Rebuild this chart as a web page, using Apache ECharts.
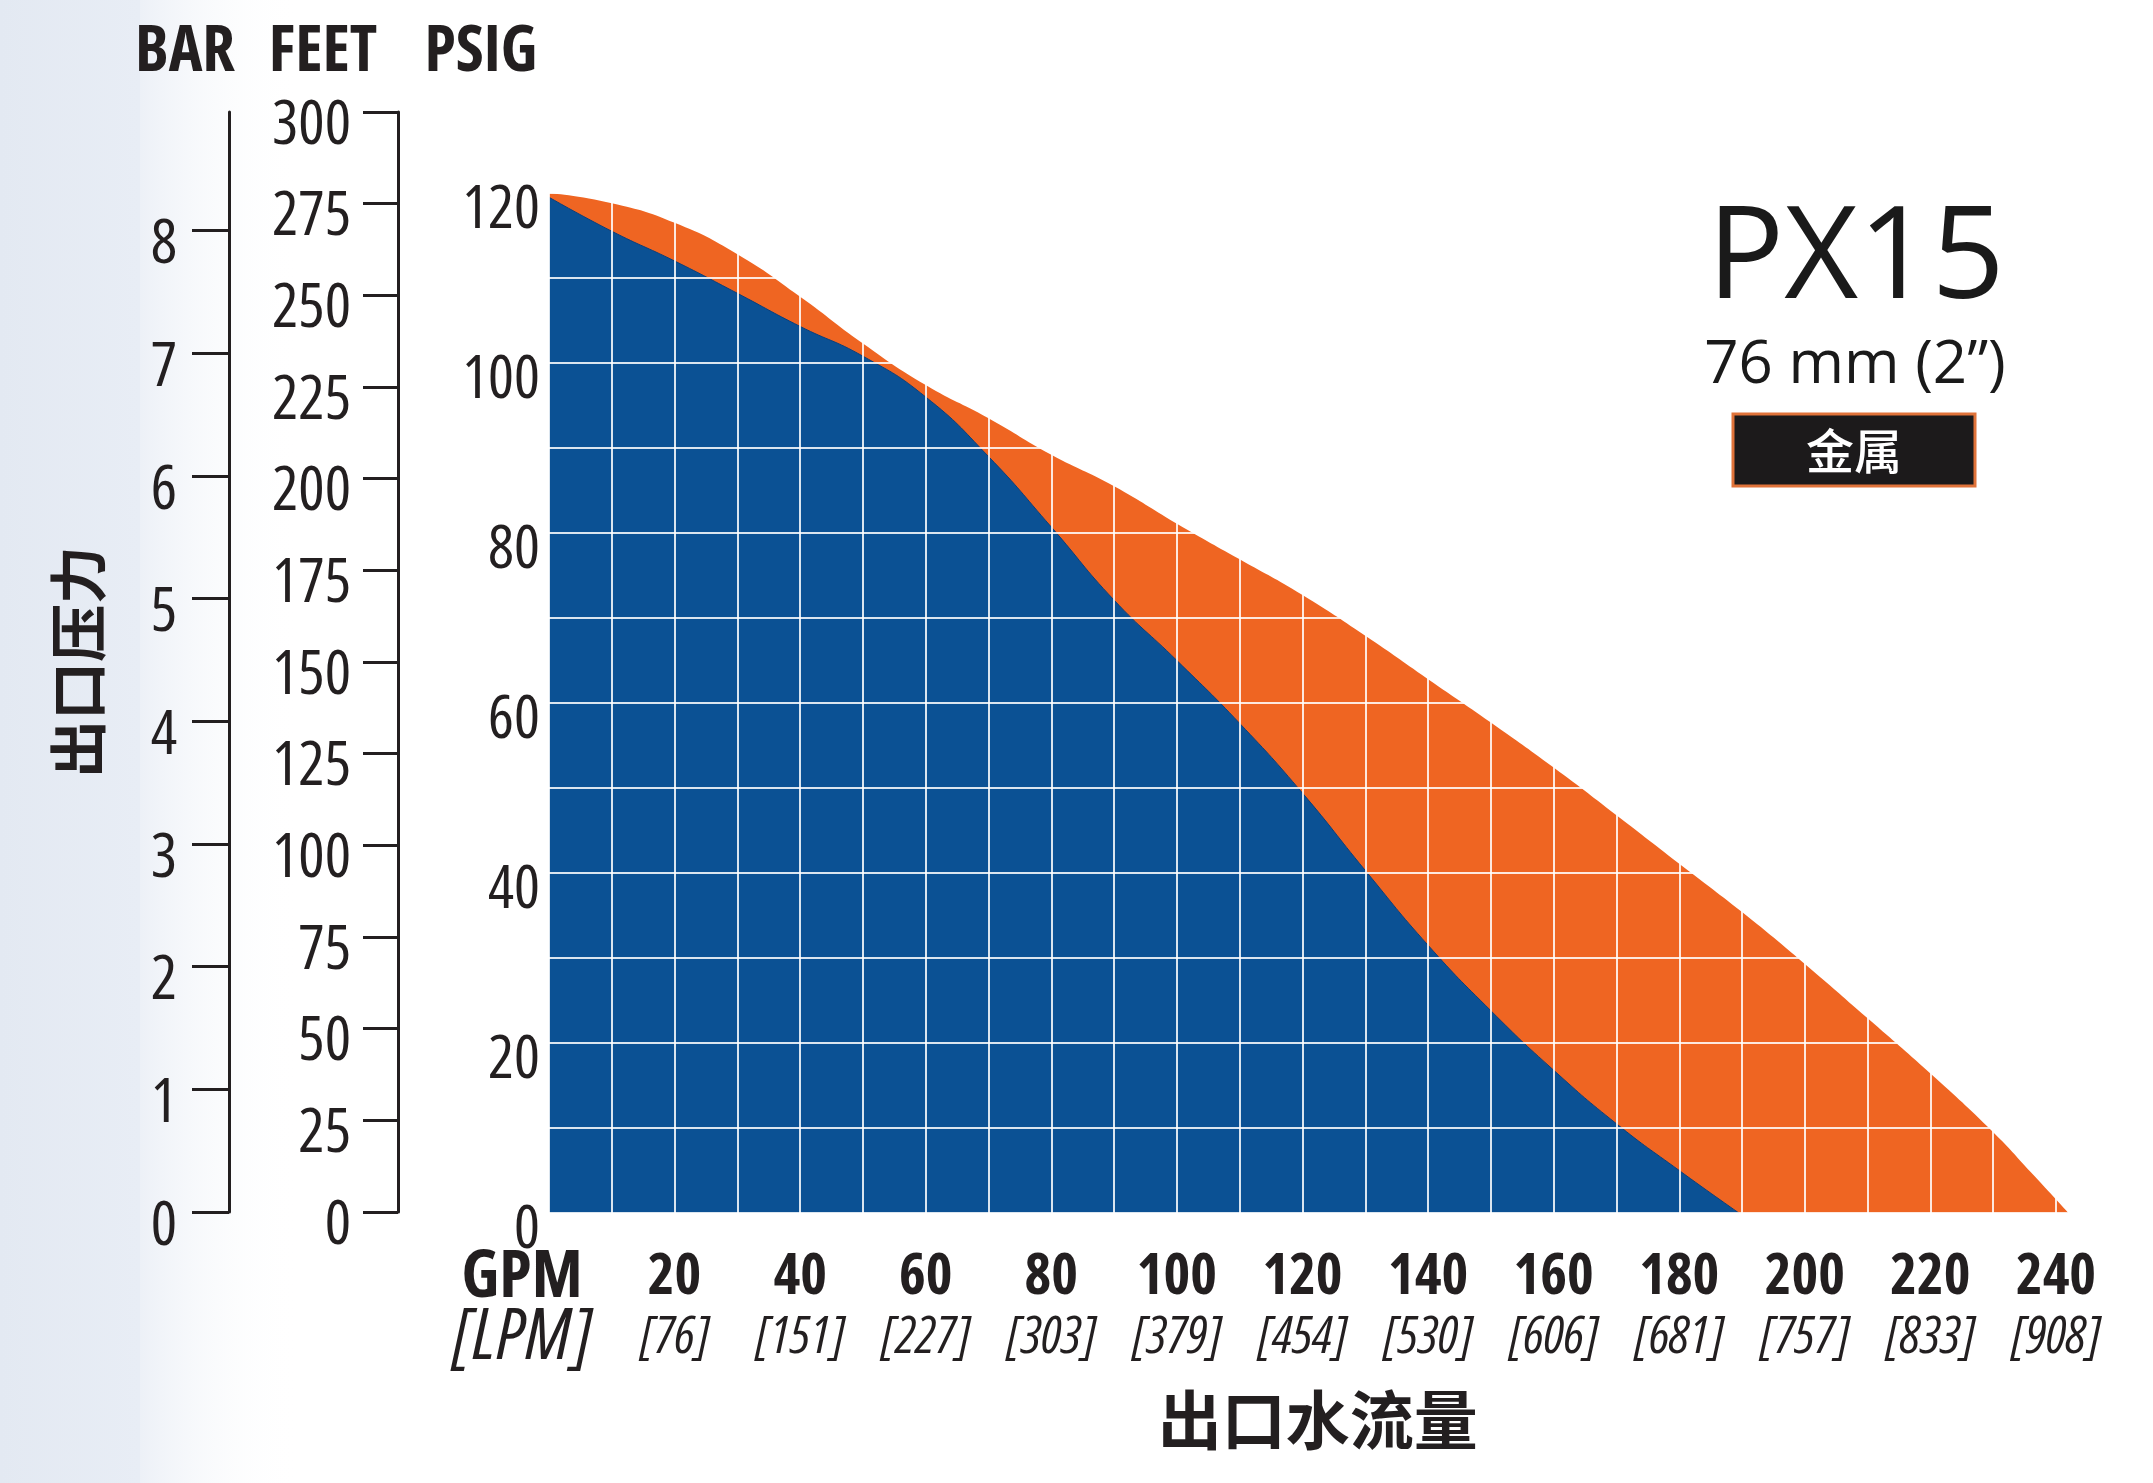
<!DOCTYPE html>
<html>
<head>
<meta charset="utf-8">
<script src="https://cdn.jsdelivr.net/npm/echarts@6/dist/echarts.min.js"></script>
<style>
html,body{margin:0;padding:0;background:#fff;}
#chart{width:2153px;height:1483px;}
</style>
</head>
<body>
<div id="chart"></div>
<script>
// ---- data ----
const gpmBlue   = [0, 10, 20, 30, 40, 50, 60, 70, 80, 90, 100, 110, 120, 130, 140, 150, 160, 170, 180, 189.5];
const psiBlue   = [119.5, 115.5, 112, 108.2, 104.3, 100.8, 96, 89, 80.7, 72.1, 65, 57.6, 49.4, 40.3, 31.5, 23.8, 16.8, 10.5, 5, 0];
const gpmOrange = [0, 10, 20, 30, 40, 50, 60, 70, 80, 90, 100, 110, 120, 130, 140, 150, 160, 170, 180, 190, 200, 210, 220, 230, 236, 242];
const psiOrange = [120, 118.8, 116.5, 112.8, 107.8, 102.3, 97.4, 93.5, 89.2, 85.5, 81.1, 76.9, 72.7, 67.9, 62.8, 57.7, 52.4, 46.8, 41.1, 35.4, 29.3, 22.9, 16.4, 9.5, 4.8, 0];

const gpmTicks  = [20, 40, 60, 80, 100, 120, 140, 160, 180, 200, 220, 240];
const lpmTicks  = ['76', '151', '227', '303', '379', '454', '530', '606', '681', '757', '833', '908'];
const psiTicks  = [0, 20, 40, 60, 80, 100, 120];
const feetTicks = [0, 25, 50, 75, 100, 125, 150, 175, 200, 225, 250, 275, 300];
const barTicks  = [0, 1, 2, 3, 4, 5, 6, 7, 8];
const GPM_MAX = 242;          // orange curve reaches zero just past 240
const FEET_MAX = 300;
const BAR_AT_FEET_MAX = 8.966; // 300 ft of water expressed in bar

const NARROW = "'Open Sans',sans-serif";
const COND = 'condensed';
const SEMI = 'semi-condensed';
const CJK = "'Noto Sans CJK SC','Noto Sans CJK TC',sans-serif";
const INK = '#231f20';
const GRIDLINE = 'rgba(255,255,255,0.85)';

const chart = echarts.init(document.getElementById('chart'), null, {renderer: 'canvas'});

const zip = (xs, ys) => xs.map((x, i) => [x, ys[i]]);

const option = {
  backgroundColor: '#ffffff',
  animation: false,
  grid: [
    {left: 549, top: 193, width: 1507 * GPM_MAX / 240, height: 1020},
    {left: 398, top: 112, width: 1, height: 1100}
  ],
  xAxis: [
    {
      type: 'value', gridIndex: 0, min: 0, max: GPM_MAX, interval: 10, z: 5, position: 'bottom',
      axisLine: {show: false}, axisTick: {show: false},
      splitLine: {show: true, lineStyle: {color: GRIDLINE, width: 2}},
      axisLabel: {
        customValues: gpmTicks, hideOverlap: false,
        margin: 36, color: INK,
        formatter: function (v) {
          const i = gpmTicks.indexOf(v);
          return i < 0 ? '' : '{a|' + v + '}\n{b|[' + lpmTicks[i] + ']}';
        },
        rich: {
          a: {fontFamily: NARROW, fontStyle: SEMI, fontWeight: 'bold', fontSize: 57, lineHeight: 58, color: INK},
          b: {fontFamily: NARROW, fontStyle: 'italic ' + COND, fontSize: 52, lineHeight: 62, color: INK}
        }
      },
      name: '出口水流量', nameLocation: 'middle', nameGap: 175,
      nameTextStyle: {fontFamily: CJK, fontWeight: 'bold', fontSize: 64, color: INK, padding: [0, 0, 0, 18]}
    },
    {type: 'value', gridIndex: 1, show: false, min: 0, max: 1},
    {
      // unit caption under the origin of the flow axis
      type: 'value', gridIndex: 0, min: 0, max: GPM_MAX, position: 'bottom', z: 5,
      axisLine: {show: false}, axisTick: {show: false}, splitLine: {show: false},
      axisLabel: {
        customValues: [0], showMinLabel: true, margin: 36, color: INK,
        formatter: function () { return '{g|GPM}\n{l|[LPM]}'; },
        rich: {
          g: {fontFamily: NARROW, fontStyle: SEMI, fontWeight: 'bold', fontSize: 66, lineHeight: 58, color: INK, padding: [0, 54, 0, 0]},
          l: {fontFamily: NARROW, fontStyle: 'italic ' + SEMI, fontSize: 72, lineHeight: 62, color: INK, padding: [0, 54, 0, 0]}
        }
      }
    }
  ],
  yAxis: [
    {
      type: 'value', gridIndex: 0, min: 0, max: 120, interval: 10, z: 5,
      axisLine: {show: false}, axisTick: {show: false},
      splitLine: {show: true, lineStyle: {color: GRIDLINE, width: 2}},
      axisLabel: {
        customValues: psiTicks, margin: 9, color: INK,
        fontFamily: NARROW, fontStyle: COND, fontSize: 61, verticalAlign: 'top', lineHeight: 36
      }
    },
    {
      type: 'value', gridIndex: 1, position: 'left', offset: 0,
      min: 0, max: FEET_MAX, interval: 25,
      axisLine: {show: true, lineStyle: {color: INK, width: 3}},
      axisTick: {show: true, length: 35, lineStyle: {color: INK, width: 3}},
      splitLine: {show: false},
      axisLabel: {customValues: feetTicks, margin: 47, color: INK, fontFamily: NARROW, fontStyle: COND, fontSize: 62, verticalAlign: 'top', lineHeight: 28}
    },
    {
      type: 'value', gridIndex: 1, position: 'left', offset: 169,
      min: 0, max: BAR_AT_FEET_MAX,
      axisLine: {show: true, lineStyle: {color: INK, width: 3}},
      axisTick: {show: true, length: 37, customValues: barTicks, lineStyle: {color: INK, width: 3}},
      splitLine: {show: false},
      axisLabel: {customValues: barTicks, margin: 52, color: INK, fontFamily: NARROW, fontStyle: COND, fontSize: 62, verticalAlign: 'top', lineHeight: 30},
      name: '出口压力', nameLocation: 'middle', nameGap: 122, nameRotate: 90,
      nameTextStyle: {fontFamily: CJK, fontWeight: 'bold', fontSize: 58, color: INK}
    }
  ],
  series: [
    {
      name: 'orange', type: 'line', xAxisIndex: 0, yAxisIndex: 0, z: 1,
      data: zip(gpmOrange, psiOrange), smooth: 0.5, showSymbol: false,
      lineStyle: {width: 0, opacity: 0},
      areaStyle: {color: '#ef6522', opacity: 1}
    },
    {
      name: 'blue', type: 'line', xAxisIndex: 0, yAxisIndex: 0, z: 2,
      data: zip(gpmBlue, psiBlue), smooth: 0.5, showSymbol: false,
      lineStyle: {width: 1, color: '#0a3f7c'},
      areaStyle: {color: '#0b5194', opacity: 1}
    }
  ],
  graphic: [
    {type: 'rect', z: -10, silent: true, shape: {x: 0, y: 0, width: 140, height: 1483},
      style: {fill: new echarts.graphic.LinearGradient(0, 0, 1, 0, [{offset: 0, color: '#e3e9f2'}, {offset: 1, color: '#e8edf5'}])}},
    {type: 'rect', z: -10, silent: true, shape: {x: 140, y: 0, width: 160, height: 1483},
      style: {fill: new echarts.graphic.LinearGradient(0, 0, 1, 0, [{offset: 0, color: 'rgba(232,237,245,0.8)'}, {offset: 1, color: 'rgba(255,255,255,0)'}])}},
    {type: 'text', z: 100, style: {text: 'BAR', x: 185, y: 53, align: 'center', verticalAlign: 'middle', fontFamily: NARROW, fontStyle: COND, fontWeight: 'bold', fontSize: 64, fill: INK}},
    {type: 'text', z: 100, style: {text: 'FEET', x: 323, y: 53, align: 'center', verticalAlign: 'middle', fontFamily: NARROW, fontStyle: COND, fontWeight: 'bold', fontSize: 64, fill: INK}},
    {type: 'text', z: 100, style: {text: 'PSIG', x: 481, y: 53, align: 'center', verticalAlign: 'middle', fontFamily: NARROW, fontStyle: COND, fontWeight: 'bold', fontSize: 64, fill: INK}},
    {type: 'text', z: 100, style: {text: 'PX15', x: 1856, y: 262, align: 'center', verticalAlign: 'middle', fontFamily: "'Open Sans',sans-serif", fontSize: 128, fill: '#1a1a1a'}},
    {type: 'text', z: 100, style: {text: '76 mm (2\u201d)', x: 1855, y: 366, align: 'center', verticalAlign: 'middle', fontFamily: "'Open Sans',sans-serif", fontSize: 60, fill: '#1a1a1a'}},
    {type: 'rect', z: 100, shape: {x: 1733, y: 414, width: 242, height: 72}, style: {fill: '#1c1a1b', stroke: '#e0733a', lineWidth: 3}},
    {type: 'text', z: 101, style: {text: '金属', x: 1854, y: 451, align: 'center', verticalAlign: 'middle', fontFamily: CJK, fontWeight: 500, fontSize: 48, fill: '#ffffff'}}
  ]
};

chart.setOption(option);
</script>
</body>
</html>
